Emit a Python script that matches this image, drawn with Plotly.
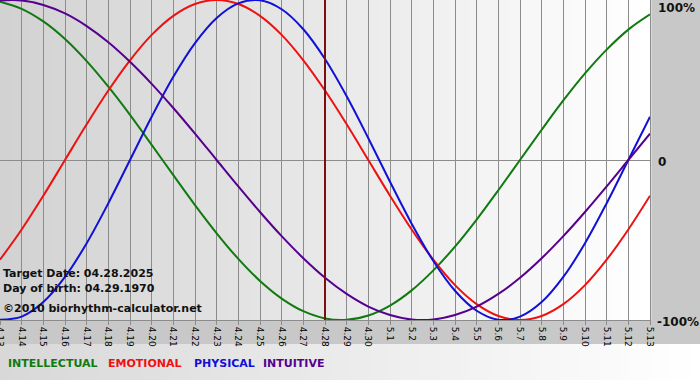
import plotly.graph_objects as go

# ---- data ----
dates = ["4.13", "4.14", "4.15", "4.16", "4.17", "4.18", "4.19", "4.20", "4.21", "4.22",
         "4.23", "4.24", "4.25", "4.26", "4.27", "4.28", "4.29", "4.30", "5.1", "5.2",
         "5.3", "5.4", "5.5", "5.6", "5.7", "5.8", "5.9", "5.10", "5.11", "5.12", "5.13"]

physical = [-0.998, -0.979, -0.888, -0.731, -0.520, -0.270, 0.000, 0.270, 0.520, 0.731,
            0.888, 0.979, 0.998, 0.942, 0.817, 0.631, 0.398, 0.136, -0.136, -0.398,
            -0.631, -0.817, -0.942, -0.998, -0.979, -0.888, -0.731, -0.520, -0.270, 0.000, 0.270]

emotional = [-0.623, -0.434, -0.223, 0.000, 0.223, 0.434, 0.623, 0.782, 0.901, 0.975,
             1.000, 0.975, 0.901, 0.782, 0.623, 0.434, 0.223, 0.000, -0.223, -0.434,
             -0.623, -0.782, -0.901, -0.975, -1.000, -0.975, -0.901, -0.782, -0.623, -0.434, -0.223]

intellectual = [0.990, 0.945, 0.866, 0.756, 0.618, 0.458, 0.282, 0.095, -0.095, -0.282,
                -0.458, -0.618, -0.756, -0.866, -0.945, -0.990, -0.999, -0.972, -0.910, -0.815,
                -0.690, -0.541, -0.372, -0.189, 0.000, 0.189, 0.372, 0.541, 0.690, 0.815, 0.910]

intuitive = [0.997, 0.997, 0.969, 0.916, 0.837, 0.736, 0.614, 0.476, 0.325, 0.165,
             0.000, -0.165, -0.325, -0.476, -0.614, -0.736, -0.837, -0.916, -0.969, -0.997,
             -0.997, -0.969, -0.916, -0.837, -0.736, -0.614, -0.476, -0.325, -0.165, 0.000, 0.165]

target_label = "4.28"
y_labels = ["100%", "0", "-100%"]
info_lines = ["Target Date: 04.28.2025", "Day of birth: 04.29.1970", "\u00a92010 biorhythm-calculator.net"]
legend_names = ["INTELLECTUAL", "EMOTIONAL", "PHYSICAL", "INTUITIVE"]

# ---- styling ----
W, H = 700, 380
PL, PR, PT, PB = 0, 50, 0, 60
PW, PH = W - PL - PR, H - PT - PB

def px_x(px):
    return (px - PL) / PW

def px_y(py):
    return (PT + PH - py) / PH

colors = {"INTELLECTUAL": "#107a10", "EMOTIONAL": "#ee1111",
          "PHYSICAL": "#1010d8", "INTUITIVE": "#560090"}
series = {"INTELLECTUAL": intellectual, "EMOTIONAL": emotional,
          "PHYSICAL": physical, "INTUITIVE": intuitive}

fig = go.Figure()
for name in legend_names:
    fig.add_trace(go.Scatter(x=dates, y=series[name], mode="lines", name=name,
                             line=dict(color=colors[name], width=2, shape="spline", smoothing=1.0),
                             hoverinfo="skip", showlegend=False))

shapes = []
# plot area gradient
n = 65
for i in range(n):
    t = i / (n - 1)
    c = int(round(210 + (255 - 210) * t))
    shapes.append(dict(type="rect", xref="paper", yref="paper",
                       x0=i / n, x1=(i + 1) / n + 0.002, y0=0, y1=1,
                       fillcolor=f"rgb({c},{c},{c})", line=dict(width=0), layer="below"))
# legend strip gradient
m = 70
for i in range(m):
    t = i / (m - 1)
    c = int(round(216 + (255 - 216) * t))
    shapes.append(dict(type="rect", xref="paper", yref="paper",
                       x0=px_x(i * W / m), x1=px_x((i + 1) * W / m + 1),
                       y0=px_y(380), y1=px_y(344),
                       fillcolor=f"rgb({c},{c},{c})", line=dict(width=0), layer="below"))
# target date line
ti = dates.index(target_label)
shapes.append(dict(type="line", xref="x", yref="paper", x0=ti, x1=ti, y0=0, y1=1,
                   line=dict(color="#7a1010", width=2), layer="above"))

annotations = []
ax_font = dict(family="DejaVu Sans", size=12, color="#111111")
annotations.append(dict(text="<b>" + y_labels[0] + "</b>", xref="paper", yref="paper",
                        x=px_x(656), y=1, xanchor="left", yanchor="top", showarrow=False,
                        font=ax_font, yshift=1))
annotations.append(dict(text="<b>" + y_labels[1] + "</b>", xref="paper", yref="paper",
                        x=px_x(656), y=px_y(162), xanchor="left", yanchor="middle", showarrow=False,
                        font=ax_font))
annotations.append(dict(text="<b>" + y_labels[2] + "</b>", xref="paper", yref="paper",
                        x=px_x(655), y=px_y(322), xanchor="left", yanchor="middle", showarrow=False,
                        font=ax_font))

info_y = [273, 288, 308]
for txt, yy in zip(info_lines, info_y):
    annotations.append(dict(text="<b>" + txt + "</b>", xref="paper", yref="paper",
                            x=px_x(1), y=px_y(yy), xanchor="left", yanchor="middle",
                            showarrow=False, font=dict(family="DejaVu Sans", size=11, color="#111111")))

leg_x = [6, 106, 192, 261]
for name, lx in zip(legend_names, leg_x):
    annotations.append(dict(text="<b>" + name + "</b>", xref="paper", yref="paper",
                            x=px_x(lx), y=px_y(363), xanchor="left", yanchor="middle",
                            showarrow=False, font=dict(family="DejaVu Sans", size=11, color=colors[name])))

fig.update_layout(
    width=W, height=H,
    margin=dict(l=PL, r=PR, t=PT, b=PB, pad=0),
    paper_bgcolor="#c8c8c8",
    plot_bgcolor="#e4e4e4",
    shapes=shapes,
    annotations=annotations,
    showlegend=False,
)
fig.update_xaxes(type="category", range=[0, len(dates) - 1], showgrid=True, gridcolor="#8c8c8c",
                 gridwidth=1, tickangle=90, ticks="outside", ticklen=4, tickcolor="#8c8c8c",
                 tickfont=dict(family="DejaVu Sans", size=9, color="#000000"),
                 showline=True, mirror=True, linecolor="#8c8c8c", linewidth=1,
                 zeroline=False, automargin=False, fixedrange=True)
fig.update_yaxes(range=[-1, 1], showgrid=False, zeroline=True, zerolinecolor="#8c8c8c",
                 zerolinewidth=1, showticklabels=False, ticks="",
                 showline=True, mirror=True, linecolor="#8c8c8c", linewidth=1,
                 automargin=False, fixedrange=True)

fig.write_html("out.html", config={"displayModeBar": False},
               post_script="document.body.style.margin='0';document.body.style.overflow='hidden';")
